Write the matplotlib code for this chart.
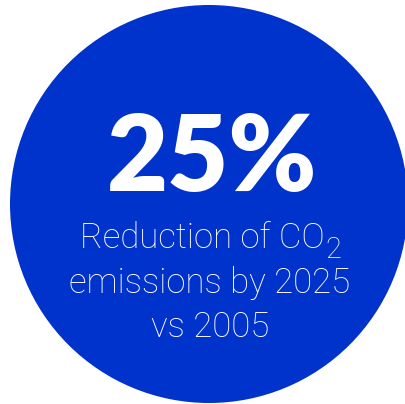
import matplotlib.pyplot as plt
from matplotlib.patches import Circle

# -----------------------------
# Data
# -----------------------------
headline = "25%"
caption_first = "Reduction of CO"
caption_sub = "2"
caption_lines = ["emissions by 2025", "vs 2005"]

BLUE = "#0033CC"
CAP_FONT = dict(color="white", fontfamily="Roboto", fontweight="light", va="baseline")

fig = plt.figure(figsize=(4.06, 4.04), dpi=100)
ax = fig.add_axes([0, 0, 1, 1])
ax.set_xlim(0, 406)
ax.set_ylim(404, 0)
ax.set_aspect("equal")
ax.axis("off")

ax.add_patch(Circle((209, 204), 199, color=BLUE, lw=0))

ax.text(212, 160, headline, color="white", fontsize=76, fontfamily="Lato",
        fontweight="heavy", ha="center", va="center")

# first line with a big subscript, centred as a whole
renderer = fig.canvas.get_renderer()
t1 = ax.text(0, 248, caption_first, fontsize=25, ha="left", **CAP_FONT)
t2 = ax.text(0, 258, caption_sub, fontsize=21, ha="left", **CAP_FONT)
w1 = t1.get_window_extent(renderer).width
w2 = t2.get_window_extent(renderer).width
gap = 1
x0 = 211 - (w1 + gap + w2) / 2
t1.set_x(x0)
t2.set_x(x0 + w1 + gap)

for i, line in enumerate(caption_lines):
    ax.text(210, 292.5 + i * 44.5, line, fontsize=25, ha="center", **CAP_FONT)

fig.savefig("out.png", dpi=100)
